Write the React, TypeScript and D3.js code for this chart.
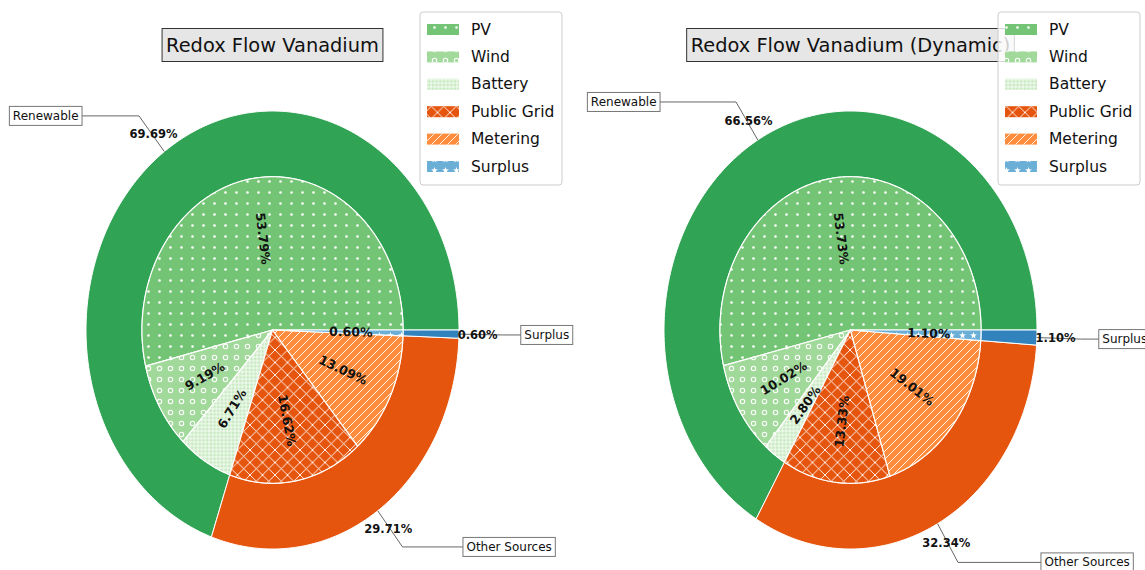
import React, { useEffect, useRef } from 'react';
import * as d3 from 'd3';

const W = 1145;
const H = 570;

// ---- data ----
const innerCategories = ['PV', 'Wind', 'Battery', 'Public Grid', 'Metering', 'Surplus'];
const outerCategories = ['Renewable', 'Other Sources', 'Surplus'];
const titles = ['Redox Flow Vanadium', 'Redox Flow Vanadium (Dynamic)'];
const innerValuesStatic = [53.79, 9.19, 6.71, 16.62, 13.09, 0.6];
const innerValuesDynamic = [53.73, 10.02, 2.8, 13.33, 19.01, 1.1];
const outerValuesStatic = [69.69, 29.71, 0.6];
const outerValuesDynamic = [66.56, 32.34, 1.1];

// ---- styles ----
const innerColors = ['#74c476', '#a1d99b', '#c7e9c0', '#e6550d', '#fd8d3c', '#6baed6'];
const innerHatches = ['dots', 'rings', 'grid', 'cross', 'diag', 'stars'];
const outerColors = ['#31a354', '#e6550d', '#3182bd'];
const annotXFactor = [1.04, 1.04, 1.35];
const FONT = 'DejaVu Sans, sans-serif';

const charts = [
  { title: titles[0], inner: innerValuesStatic, outer: outerValuesStatic, cx: 272.5 },
  { title: titles[1], inner: innerValuesDynamic, outer: outerValuesDynamic, cx: 850.5 },
];
const CY = 330;
const RX = 186.5;
const RY = 219;
const INNER = 0.7;

function wedgePath(cx: number, cy: number, r0: number, r1: number, a0: number, a1: number) {
  const n = Math.max(2, Math.ceil(((a1 - a0) * 180) / Math.PI));
  const pts: [number, number][] = [];
  for (let i = 0; i <= n; i++) {
    const a = a0 + ((a1 - a0) * i) / n;
    pts.push([cx + RX * r1 * Math.cos(a), cy - RY * r1 * Math.sin(a)]);
  }
  if (r0 > 0) {
    for (let i = n; i >= 0; i--) {
      const a = a0 + ((a1 - a0) * i) / n;
      pts.push([cx + RX * r0 * Math.cos(a), cy - RY * r0 * Math.sin(a)]);
    }
  } else {
    pts.push([cx, cy]);
  }
  return (d3.line()(pts) || '') + 'Z';
}

function starPoints(cx: number, cy: number, r: number) {
  const pts: string[] = [];
  for (let i = 0; i < 10; i++) {
    const rr = i % 2 === 0 ? r : r * 0.4;
    const a = -Math.PI / 2 + (i * Math.PI) / 5;
    pts.push(`${cx + rr * Math.cos(a)},${cy + rr * Math.sin(a)}`);
  }
  return pts.join(' ');
}

export default function App() {
  const ref = useRef<SVGSVGElement>(null);

  useEffect(() => {
    const svg = d3.select(ref.current);
    svg.selectAll('*').remove();

    // hatch patterns
    const defs = svg.append('defs');
    const pDots = defs.append('pattern').attr('id', 'h-dots').attr('patternUnits', 'userSpaceOnUse').attr('width', 11).attr('height', 11);
    pDots.append('circle').attr('cx', 5.5).attr('cy', 5.5).attr('r', 1.3).attr('fill', '#fff');

    const pRings = defs.append('pattern').attr('id', 'h-rings').attr('patternUnits', 'userSpaceOnUse').attr('width', 11).attr('height', 11);
    pRings.append('circle').attr('cx', 5.5).attr('cy', 5.5).attr('r', 2.2).attr('fill', 'none').attr('stroke', '#fff').attr('stroke-width', 1.1);

    const pGrid = defs.append('pattern').attr('id', 'h-grid').attr('patternUnits', 'userSpaceOnUse').attr('width', 3.7).attr('height', 3.7);
    pGrid.append('path').attr('d', 'M0 1.85H3.7M1.85 0V3.7').attr('stroke', '#fff').attr('stroke-width', 0.8);

    const CS = 12.5;
    const pCross = defs.append('pattern').attr('id', 'h-cross').attr('patternUnits', 'userSpaceOnUse').attr('width', CS).attr('height', CS);
    pCross.append('path').attr('d', `M-1 -1L${CS + 1} ${CS + 1}M${CS + 1} -1L-1 ${CS + 1}`).attr('stroke', '#fff').attr('stroke-width', 0.9);

    const pDiag = defs.append('pattern').attr('id', 'h-diag').attr('patternUnits', 'userSpaceOnUse').attr('width', 8).attr('height', 8);
    pDiag.append('path').attr('d', 'M-1 9L9 -1M-3 3L3 -3M5 11L11 5').attr('stroke', '#fff').attr('stroke-width', 0.9);

    const pStars = defs.append('pattern').attr('id', 'h-stars').attr('patternUnits', 'userSpaceOnUse').attr('width', 11).attr('height', 11);
    pStars.append('polygon').attr('points', starPoints(5.5, 5.5, 3.6)).attr('fill', '#fff');

    const pie = d3.pie<number>().sort(null).startAngle(0).endAngle(2 * Math.PI).value((d) => d);

    charts.forEach((ch) => {
      const g = svg.append('g');
      const cx = ch.cx;

      // outer ring
      const outerArcs = pie(ch.outer);
      outerArcs.forEach((a, i) => {
        g.append('path')
          .attr('d', wedgePath(cx, CY, INNER, 1, a.startAngle, a.endAngle))
          .attr('fill', outerColors[i])
          .attr('stroke', '#fff')
          .attr('stroke-width', 1)
          .attr('stroke-linejoin', 'round');
      });

      // inner pie
      const innerArcs = pie(ch.inner);
      innerArcs.forEach((a, i) => {
        const d = wedgePath(cx, CY, 0, INNER, a.startAngle, a.endAngle);
        g.append('path').attr('d', d).attr('fill', innerColors[i]);
        g.append('path').attr('d', d).attr('fill', `url(#h-${innerHatches[i]})`);
        g.append('path').attr('d', d).attr('fill', 'none').attr('stroke', '#fff').attr('stroke-width', 1.2).attr('stroke-linejoin', 'round');
      });

      // inner labels (rotated)
      innerArcs.forEach((a, i) => {
        const th = (a.startAngle + a.endAngle) / 2;
        const deg = (th * 180) / Math.PI;
        let rot = deg;
        if (deg > 90 && deg <= 270) rot = deg - 180;
        else if (deg > 270) rot = deg - 360;
        const x = cx + RX * INNER * 0.6 * Math.cos(th);
        const y = CY - RY * INNER * 0.6 * Math.sin(th);
        g.append('text')
          .attr('transform', `translate(${x},${y}) rotate(${-rot})`)
          .attr('text-anchor', 'middle')
          .attr('dominant-baseline', 'central')
          .attr('font-family', FONT)
          .attr('font-weight', 'bold')
          .attr('font-size', 12.5)
          .attr('fill', '#111')
          .text(`${ch.inner[i].toFixed(2)}%`);
      });

      // annotations
      outerArcs.forEach((a, i) => {
        const th = (a.startAngle + a.endAngle) / 2;
        const ux = Math.cos(th);
        const uy = Math.sin(th);
        const bx = cx + RX * ux;
        const by = CY - RY * uy;
        const sgn = ux >= 0 ? 1 : -1;
        const ax = cx + sgn * annotXFactor[i] * RX;
        const ay = CY - 1.2 * uy * RY;
        const t = (by - ay) / uy;
        const cxn = bx + t * ux;
        g.append('path')
          .attr('d', `M${ax},${ay}L${cxn},${ay}L${bx},${by}`)
          .attr('fill', 'none')
          .attr('stroke', '#666')
          .attr('stroke-width', 1);
        const txt = g.append('text')
          .attr('x', ax)
          .attr('y', ay)
          .attr('text-anchor', sgn > 0 ? 'start' : 'end')
          .attr('dominant-baseline', 'central')
          .attr('font-family', FONT)
          .attr('font-size', 12)
          .attr('fill', '#111')
          .text(outerCategories[i]);
        const bb = (txt.node() as SVGTextElement).getBBox();
        g.insert('rect', () => txt.node() as any)
          .attr('x', bb.x - 3.5)
          .attr('y', ay - 9.5)
          .attr('width', bb.width + 7)
          .attr('height', 19)
          .attr('fill', '#fff')
          .attr('stroke', '#777')
          .attr('stroke-width', 1);
      });

      // outer percentage labels
      outerArcs.forEach((a, i) => {
        const th = (a.startAngle + a.endAngle) / 2;
        g.append('text')
          .attr('x', cx + 1.1 * RX * Math.cos(th))
          .attr('y', CY - 1.1 * RY * Math.sin(th))
          .attr('text-anchor', 'middle')
          .attr('dominant-baseline', 'central')
          .attr('font-family', FONT)
          .attr('font-weight', 'bold')
          .attr('font-size', 11.5)
          .attr('fill', '#111')
          .text(`${ch.outer[i].toFixed(2)}%`);
      });

      // title
      const tt = g.append('text')
        .attr('x', cx)
        .attr('y', 45)
        .attr('text-anchor', 'middle')
        .attr('dominant-baseline', 'central')
        .attr('font-family', FONT)
        .attr('font-size', 19.4)
        .attr('fill', '#111')
        .text(ch.title);
      const tb = (tt.node() as SVGTextElement).getBBox();
      g.insert('rect', () => tt.node() as any)
        .attr('x', tb.x - 4)
        .attr('y', 28.5)
        .attr('width', tb.width + 8)
        .attr('height', 33)
        .attr('fill', '#e6e6e6')
        .attr('stroke', '#333')
        .attr('stroke-width', 1);

      // legend
      const lx = cx + 147.5;
      const lg = g.append('g');
      lg.append('rect')
        .attr('x', lx)
        .attr('y', 12)
        .attr('width', 142)
        .attr('height', 173)
        .attr('rx', 3)
        .attr('fill', '#fff')
        .attr('fill-opacity', 0.8)
        .attr('stroke', '#ccc')
        .attr('stroke-width', 1);
      innerCategories.forEach((c, i) => {
        const yc = 29.5 + i * 27.4;
        lg.append('rect').attr('x', lx + 7).attr('y', yc - 5.5).attr('width', 32).attr('height', 11).attr('fill', innerColors[i]);
        lg.append('rect').attr('x', lx + 7).attr('y', yc - 5.5).attr('width', 32).attr('height', 11).attr('fill', `url(#h-${innerHatches[i]})`);
        lg.append('text')
          .attr('x', lx + 51)
          .attr('y', yc)
          .attr('dominant-baseline', 'central')
          .attr('font-family', FONT)
          .attr('font-size', 15.5)
          .attr('fill', '#111')
          .text(c);
      });
    });
  }, []);

  return (
    <svg
      ref={ref}
      width={W}
      height={H}
      style={{ position: 'absolute', left: 0, top: 0, background: '#fff' }}
    />
  );
}
